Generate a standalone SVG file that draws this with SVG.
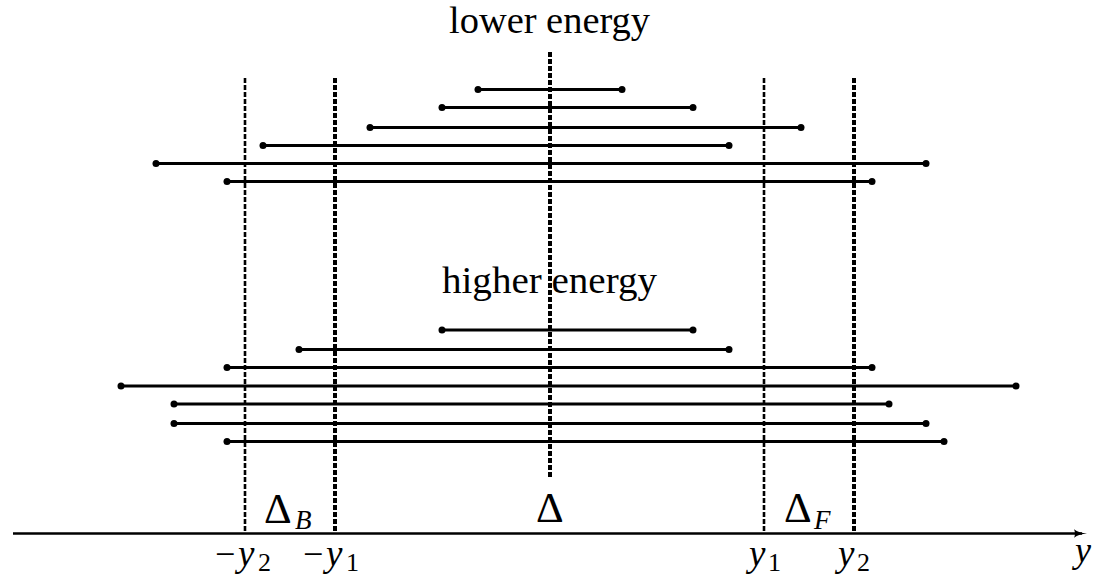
<svg xmlns="http://www.w3.org/2000/svg" width="1096" height="577" viewBox="0 0 1096 577">
<style>
.seg{stroke:#000;stroke-width:3;fill:none}
.dot{fill:#000}
.vd{stroke:#000;fill:none;stroke-dasharray:5 2}
.thin{stroke-width:2.6}
.thick{stroke-width:4}
.t{font-family:"Liberation Serif","DejaVu Serif",serif;fill:#000}
.m{font-family:"Liberation Serif","DejaVu Serif",serif;font-style:italic;fill:#000}
</style>
<rect width="1096" height="577" fill="#fff"/>
<g id="labels">
<text class="t" x="449" y="33" font-size="37" textLength="201" lengthAdjust="spacingAndGlyphs">lower energy</text>
<text class="t" x="442" y="293" font-size="37" textLength="215" lengthAdjust="spacingAndGlyphs">higher energy</text>
</g>
<g id="verticals">
<line class="vd thin" x1="245" y1="78" x2="245" y2="533"/>
<line class="vd thick" x1="335" y1="78" x2="335" y2="533"/>
<line class="vd thick" x1="550" y1="52" x2="550" y2="479"/>
<line class="vd thin" x1="764" y1="78" x2="764" y2="533"/>
<line class="vd thick" x1="854" y1="78" x2="854" y2="533"/>
</g>
<g id="lower-levels">
<line class="seg" x1="478" y1="89.5" x2="622" y2="89.5"/><circle class="dot" cx="478" cy="89.5" r="3.5"/><circle class="dot" cx="622" cy="89.5" r="3.5"/>
<line class="seg" x1="442" y1="107.5" x2="693" y2="107.5"/><circle class="dot" cx="442" cy="107.5" r="3.5"/><circle class="dot" cx="693" cy="107.5" r="3.5"/>
<line class="seg" x1="370" y1="127.5" x2="801" y2="127.5"/><circle class="dot" cx="370" cy="127.5" r="3.5"/><circle class="dot" cx="801" cy="127.5" r="3.5"/>
<line class="seg" x1="263" y1="145.5" x2="729" y2="145.5"/><circle class="dot" cx="263" cy="145.5" r="3.5"/><circle class="dot" cx="729" cy="145.5" r="3.5"/>
<line class="seg" x1="156" y1="163.5" x2="926" y2="163.5"/><circle class="dot" cx="156" cy="163.5" r="3.5"/><circle class="dot" cx="926" cy="163.5" r="3.5"/>
<line class="seg" x1="227" y1="181.5" x2="872" y2="181.5"/><circle class="dot" cx="227" cy="181.5" r="3.5"/><circle class="dot" cx="872" cy="181.5" r="3.5"/>
</g>
<g id="higher-levels">
<line class="seg" x1="442" y1="330" x2="693" y2="330"/><circle class="dot" cx="442" cy="330" r="3.5"/><circle class="dot" cx="693" cy="330" r="3.5"/>
<line class="seg" x1="299" y1="349.5" x2="729" y2="349.5"/><circle class="dot" cx="299" cy="349.5" r="3.5"/><circle class="dot" cx="729" cy="349.5" r="3.5"/>
<line class="seg" x1="227" y1="367.5" x2="872" y2="367.5"/><circle class="dot" cx="227" cy="367.5" r="3.5"/><circle class="dot" cx="872" cy="367.5" r="3.5"/>
<line class="seg" x1="121" y1="386" x2="1016" y2="386"/><circle class="dot" cx="121" cy="386" r="3.5"/><circle class="dot" cx="1016" cy="386" r="3.5"/>
<line class="seg" x1="174" y1="404" x2="889" y2="404"/><circle class="dot" cx="174" cy="404" r="3.5"/><circle class="dot" cx="889" cy="404" r="3.5"/>
<line class="seg" x1="174" y1="423.5" x2="926" y2="423.5"/><circle class="dot" cx="174" cy="423.5" r="3.5"/><circle class="dot" cx="926" cy="423.5" r="3.5"/>
<line class="seg" x1="227" y1="441.5" x2="944" y2="441.5"/><circle class="dot" cx="227" cy="441.5" r="3.5"/><circle class="dot" cx="944" cy="441.5" r="3.5"/>
</g>
<g id="axis">
<line x1="13" y1="533.5" x2="1082" y2="533.5" stroke="#000" stroke-width="2.6"/>
<path d="M1074,529.3 Q1079,533 1087,533.5 Q1079,534 1074,537.7 Q1076,533.5 1074,529.3 Z" fill="#000"/>
</g>
<g id="axis-labels">
<text class="t" x="264" y="523" font-size="43">Δ</text><text class="m" x="295" y="529" font-size="27">B</text>
<text class="t" x="536" y="522" font-size="43">Δ</text>
<text class="t" x="784" y="522" font-size="43">Δ</text><text class="m" x="814" y="529" font-size="27">F</text>
<text class="t" x="215" y="566" font-size="36">−</text><text class="m" x="238" y="566" font-size="37">y</text><text class="t" x="258" y="571" font-size="26">2</text>
<text class="t" x="303" y="566" font-size="36">−</text><text class="m" x="326" y="566" font-size="37">y</text><text class="t" x="346" y="571" font-size="26">1</text>
<text class="m" x="749" y="566" font-size="37">y</text><text class="t" x="768" y="571" font-size="26">1</text>
<text class="m" x="838" y="566" font-size="37">y</text><text class="t" x="857" y="571" font-size="26">2</text>
<text class="m" x="1075" y="562" font-size="36">y</text>
</g>
</svg>
